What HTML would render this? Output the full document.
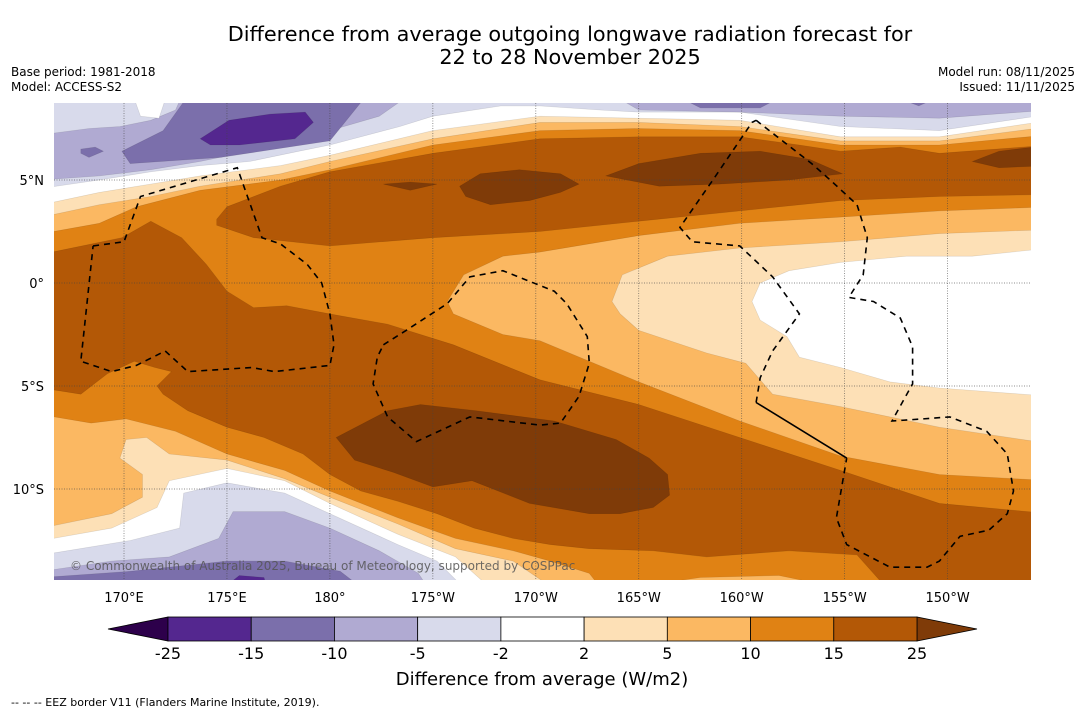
<!DOCTYPE html>
<html><head><meta charset="utf-8">
<style>
html,body{margin:0;padding:0;background:#fff;}
body{width:1085px;height:713px;overflow:hidden;font-family:"Liberation Sans","DejaVu Sans",sans-serif;}
svg text{font-family:"DejaVu Sans","Liberation Sans",sans-serif;}
</style></head>
<body>
<svg id="chart" width="1085" height="713" viewBox="0 0 1085 713" xmlns="http://www.w3.org/2000/svg">
  <rect x="0" y="0" width="1085" height="713" fill="#fff"/>
  <text x="570" y="41" text-anchor="middle" font-size="20.8" fill="#000">Difference from average outgoing longwave radiation forecast for</text>
  <text x="570" y="64" text-anchor="middle" font-size="20.8" fill="#000">22 to 28 November 2025</text>
  <text x="11" y="76" font-size="12" fill="#000">Base period: 1981-2018</text>
  <text x="11" y="91" font-size="12" fill="#000">Model: ACCESS-S2</text>
  <text x="1075" y="76" text-anchor="end" font-size="12" fill="#000">Model run: 08/11/2025</text>
  <text x="1075" y="91" text-anchor="end" font-size="12" fill="#000">Issued: 11/11/2025</text>
  <defs><clipPath id="mapclip"><rect x="54" y="103" width="977" height="477"/></clipPath></defs>
  <g id="map" clip-path="url(#mapclip)"></g>
  <g id="axes"></g>
  <g id="colorbar"></g>
  <text x="542" y="685" text-anchor="middle" font-size="18" fill="#000">Difference from average (W/m2)</text>
  <text x="11" y="706" font-size="11" fill="#000">--  --  -- EEZ border V11 (Flanders Marine Institute, 2019).</text>
</svg>
<script>
// ---- data ----
const lonExtent = [166.6, 214.05];
const latExtent = [8.74, -14.42];
const lonTicks = [170,175,180,185,190,195,200,205,210];
const lonTickLabels = ["170°E","175°E","180°","175°W","170°W","165°W","160°W","155°W","150°W"];
const latTicks = [5,0,-5,-10];
const latTickLabels = ["5°N","0°","5°S","10°S"];
const cbLevels = [-25,-15,-10,-5,-2,2,5,10,15,25];
const cbColors = ["#54278f","#7b6fab","#b0aad2","#d8daeb","#ffffff","#fde0b6","#fbb862","#e08214","#b35806"];
const cbUnderColor = "#2d004b";
const cbOverColor = "#7f3b08";

const darkTopBand = [[174.5,3.1],[175,3.7],[177.6,4.7],[180,5.4],[185,6.3],[190.2,7],[195,7.1],[199.9,7.1],[202.8,6.7],[204.8,6.4],[207.7,6.6],[209.6,6.3],[215,6.7],[215,4.3],[209.6,4.2],[204.8,4],[199.9,3.5],[195,3],[190.2,2.5],[185,2.2],[180,1.8],[176.3,2.2],[174.5,2.8]];
const top510 = [[166,2.4],[168.8,2.9],[170.6,3.7],[173.7,4.5],[177.6,5],[180,5.5],[185,6.7],[190.2,7.4],[195,7.5],[199.9,7.4],[204.8,6.7],[209.6,6.7],[215,7.2],[215,9.5],[166,9.5]];
const top25 = [[166,3.2],[168.8,3.8],[171.3,4.2],[173.7,4.7],[177.6,5.3],[180,5.9],[185,7],[190.2,7.8],[195,7.8],[199.9,7.6],[204.8,6.9],[209.6,6.9],[215,7.6],[215,9.5],[166,9.5]];
const topWhite = [[166,3.8],[168.8,4.4],[171.3,4.8],[173.7,5.2],[177.6,5.7],[180,6.2],[185,7.4],[190.2,8.1],[195,8],[199.9,7.9],[204.8,7.1],[209.6,7.1],[215,7.9],[215,9.5],[166,9.5]];
const topLav = [[166,4.6],[168.8,5],[171.3,5.4],[173.7,5.7],[176.1,5.9],[178.5,6.4],[180,6.7],[183.4,7.6],[185,8.1],[188.3,8.6],[190.2,8.6],[193.1,8.4],[195,8.3],[199.9,8.3],[204.8,7.6],[209.6,7.4],[215,8.2],[215,9.5],[166,9.5]];
const topM10Left = [[166,7.2],[168.3,7.5],[169.8,7.6],[171.3,7.9],[172.5,8.4],[173,9.5],[184.4,9.5],[182.4,8.1],[180,7.4],[178.5,7],[176.1,6.4],[173.7,5.9],[171.3,5.5],[168.8,5.2],[166,5]];
const topWhiteSpot = [[170.3,9.5],[170.8,8.1],[171.7,8],[172.2,9.5]];
const topM10Right = [[193.1,9.5],[195,8.4],[199.9,8.3],[204.8,8.1],[209.6,8],[215,8.4],[215,9.5]];
const topM15Left = [[169.9,6.4],[170.3,5.8],[174.7,6.1],[180,6.9],[182.1,9.5],[173.4,9.5],[171.9,7.4]];
const topM15Small = [[167.9,6.5],[168.6,6.6],[169,6.4],[168.3,6.1],[167.9,6.3]];
const topM15RightA = [[196,9.5],[198,8.5],[200.9,8.5],[202.8,9.5]];
const topM15RightB = [[206.2,9.5],[208.6,8.6],[210.6,9.5]];
const topM25 = [[173.7,7],[175.1,7.9],[177.1,8.2],[178.8,8.3],[179.2,7.8],[178.3,7],[175.6,6.7],[174.2,6.7]];
const topP25a = [[182.6,4.8],[183.9,4.9],[185.2,4.8],[183.9,4.5]];
const topP25b = [[186.3,4.7],[187.3,5.3],[189.2,5.5],[191.2,5.3],[192.1,4.8],[191.2,4.4],[189.7,4],[187.8,3.8],[186.6,4.2]];
const topP25c = [[193.4,5.2],[195,5.8],[198,6.3],[200.9,6.4],[203.3,6],[204.9,5.3],[202.3,5],[198.9,4.8],[196,4.7]];
const topP25d = [[211.2,5.9],[212.5,6.4],[215,6.7],[215,5.7],[212.5,5.6]];
const midDark = [[166,1.4],[169.9,2.2],[171.3,3],[172.8,2.2],[174,0.9],[175,-0.4],[176.3,-1.2],[177.9,-1.1],[180,-1.5],[182.8,-2],[186,-3],[190.2,-4.7],[195,-5.9],[199.9,-7.5],[204.8,-9.1],[209.6,-10.7],[215,-11.2],[215,-15],[207.2,-15],[205.6,-13.2],[202.3,-13],[198.3,-13.3],[195.7,-13],[192.6,-12.9],[190.7,-12.7],[188.9,-12.4],[187,-11.9],[185.2,-11.2],[183.3,-10.6],[181.5,-10.1],[180,-9.3],[178.7,-8.3],[176.8,-7.5],[175,-7],[173.1,-6.2],[171.9,-5.4],[171.6,-5],[172.3,-4.3],[171.5,-4.1],[170.5,-3.8],[169.2,-4.4],[167.9,-5.4],[166,-5.1]];
const mid510 = [[185.7,-0.9],[186.5,0.4],[188.4,1.3],[190.2,1.5],[195,2.3],[199.9,2.9],[204.8,3.2],[209.6,3.5],[215,3.7],[215,-9.6],[209.6,-9.3],[204.8,-8.4],[199.9,-6.7],[195,-4.8],[190.2,-2.8],[188.4,-2.5],[186,-1.5]];
const mid25 = [[194.1,-1.5],[193.7,-0.9],[194.2,0.4],[196.4,1.3],[199.9,1.7],[204.8,2],[209.6,2.4],[215,2.6],[215,-7.8],[209.6,-7],[204.8,-6],[201.5,-5.4],[200.2,-3.9],[198.3,-3.4],[195,-2.3]];
const midWhite = [[200.9,-1.8],[200.5,-0.9],[200.9,0],[202.3,0.6],[204.8,1],[208,1.3],[211.2,1.3],[215,1.7],[215,-5.5],[209.6,-5.1],[207.2,-4.8],[204.8,-4.1],[202.8,-3.6],[202.2,-2.6]];
const midP25 = [[180.3,-7.5],[182.8,-6.2],[184.4,-5.9],[187.1,-6.2],[190.9,-6.7],[193.9,-7.6],[195.5,-8.5],[196.4,-9.3],[196.5,-10.3],[195.7,-10.9],[194.1,-11.2],[192.6,-11.2],[189.7,-10.7],[186.9,-9.6],[185,-9.9],[183.1,-9.2],[181.2,-8.6]];
const bot510 = [[166,-6.4],[168.4,-6.8],[170.1,-6.6],[172.5,-7.2],[175,-8.3],[177.8,-9.1],[180,-10.1],[183.3,-11.4],[186.1,-12.4],[188.9,-13],[190.7,-13.5],[192.6,-14.1],[193.3,-15],[166,-15]];
const bot25 = [[166,-11.9],[169.4,-11.2],[170.9,-10.4],[170.9,-9.3],[169.8,-8.5],[170.1,-7.6],[171.1,-7.5],[172.2,-8.3],[175,-8.6],[177.8,-9.5],[180,-10.4],[183.3,-11.7],[186.1,-12.9],[188.9,-13.5],[191.1,-15],[166,-15]];
const botWhite = [[166,-12.5],[169.4,-11.9],[171.6,-10.9],[172.2,-9.6],[175,-9],[177.8,-9.6],[180,-10.7],[183.3,-12.2],[186.1,-13.3],[188,-15],[166,-15]];
const botLav = [[166,-13.2],[170.3,-12.5],[172.7,-11.9],[172.9,-10.2],[175,-9.7],[177.8,-10.2],[180,-11.2],[183.3,-12.7],[185.2,-13.5],[186.7,-15],[166,-15]];
const botM10 = [[166,-14],[169.4,-13.5],[172.2,-13.3],[174.6,-12.4],[175.3,-11.1],[177.8,-11.1],[180,-11.9],[182.4,-13],[184.3,-14.1],[184.9,-15],[166,-15]];
const botM15 = [[166,-14.3],[170.3,-14],[175,-13.5],[177.8,-13.5],[180.5,-14],[181.8,-15],[166,-15]];
const botM25 = [[174.6,-15],[175.6,-14.2],[176.8,-14.3],[177,-15]];
const botRight510 = [[193.1,-15],[198,-14.3],[201.8,-14.2],[205.7,-15]];

const eezTuvalu = [[168.5,1.8],[170,2],[170.8,4.2],[175.5,5.6],[176.7,2.2],[177.6,1.9],[178.9,0.9],[179.6,0],[180,-1.5],[180.2,-3],[180,-4],[177.3,-4.3],[176.2,-4.1],[173.1,-4.3],[172,-3.3],[170.6,-4],[169.4,-4.3],[167.9,-3.8],[168.5,1.8]];
const eezTokelau = [[182.6,-3],[183.7,-2.3],[185.7,-1],[186.8,0.3],[188.4,0.6],[190.9,-0.4],[191.5,-1],[192.5,-2.6],[192.6,-3.9],[192.1,-5.5],[191.2,-6.8],[190.2,-6.9],[186.8,-6.5],[184.2,-7.7],[182.8,-6.5],[182.1,-4.9],[182.3,-3.6],[182.6,-3]];
const eezEastA = [[200.7,7.9],[203.4,5.8],[204.3,5],[205.6,3.8],[206.1,2.2],[205.9,0.4],[205.2,-0.7],[206.4,-0.9],[207.7,-1.7],[208.3,-3.1],[208.3,-4.9],[207.3,-6.7],[208.8,-6.6],[210.1,-6.5],[211.9,-7.2],[212.9,-8.3],[213.2,-10.1],[212.9,-11.2],[212,-12],[210.6,-12.3],[209.6,-13.5],[209,-13.8],[207.2,-13.8],[205.1,-12.7],[204.6,-11.4],[205.1,-8.5]];
const eezEastSolid = [[205.1,-8.5],[200.7,-5.8]];
const eezEastB = [[200.7,-5.8],[200.9,-4.6],[201.5,-3.3],[202.8,-1.5],[201.5,0.3],[199.9,1.8],[197.6,2],[197,2.7],[198.6,5],[200.5,7.8],[200.7,7.9]];

const X0=54, X1=1031, Y0=103, Y1=580;
function xs(lon){ return X0 + (lon-lonExtent[0])/(lonExtent[1]-lonExtent[0])*(X1-X0); }
function ys(lat){ return Y0 + (latExtent[0]-lat)/(latExtent[0]-latExtent[1])*(Y1-Y0); }
function pathOf(pts, close){
  let d = pts.map((p,i)=>(i?'L':'M')+xs(p[0]).toFixed(1)+','+ys(p[1]).toFixed(1)).join('');
  return close ? d+'Z' : d;
}
const NS='http://www.w3.org/2000/svg';
function mk(tag, attrs, parent){
  const el=document.createElementNS(NS,tag);
  for(const k in attrs) el.setAttribute(k,attrs[k]);
  parent.appendChild(el); return el;
}
const map=document.getElementById('map');
const bg=mk('rect',{x:X0,y:Y0,width:X1-X0,height:Y1-Y0,fill:cbColors[7]},map);



const layers = [
  [darkTopBand,8,'contour-15-25-north'],
  [top510,6,'contour-5-10-north'],
  [top25,5,'contour-2-5-north'],
  [topWhite,4,'contour-neutral-north'],
  [topLav,3,'contour-minus5-north'],
  [topM10Left,2,'contour-minus10-northwest'],
  [topWhiteSpot,4,'contour-neutral-spot'],
  [topM10Right,2,'contour-minus10-northeast'],
  [topM15Left,1,'contour-minus15-northwest'],
  [topM15Small,1,'contour-minus15-small'],
  [topM15RightA,1,'contour-minus15-northeast-a'],
  [topM15RightB,1,'contour-minus15-northeast-b'],
  [topM25,0,'contour-minus25-north'],
  [topP25a,9,'contour-over25-a'],
  [topP25b,9,'contour-over25-b'],
  [topP25c,9,'contour-over25-c'],
  [topP25d,9,'contour-over25-d'],
  [midDark,8,'contour-15-25-central'],
  [mid510,6,'contour-5-10-east'],
  [mid25,5,'contour-2-5-east'],
  [midWhite,4,'contour-neutral-east'],
  [midP25,9,'contour-over25-central'],
  [bot510,6,'contour-5-10-south'],
  [bot25,5,'contour-2-5-south'],
  [botWhite,4,'contour-neutral-south'],
  [botLav,3,'contour-minus5-south'],
  [botM10,2,'contour-minus10-south'],
  [botM15,1,'contour-minus15-south'],
  [botM25,0,'contour-minus25-south'],
  [botRight510,6,'contour-5-10-southeast']
];
for(const L of layers){
  const col = L[1]===9 ? cbOverColor : cbColors[L[1]];
  const p=mk('path',{d:pathOf(L[0],true),fill:col,stroke:'rgba(0,0,0,0.12)','stroke-width':0.6},map);
  
  
}
for(const t of lonTicks){
  const g=mk('line',{x1:xs(t),x2:xs(t),y1:Y0,y2:Y1,stroke:'#444','stroke-width':0.7,'stroke-dasharray':'1,1.5','stroke-opacity':0.8},map);
  
  
}
for(const t of latTicks){
  const g=mk('line',{x1:X0,x2:X1,y1:ys(t),y2:ys(t),stroke:'#444','stroke-width':0.7,'stroke-dasharray':'1,1.5','stroke-opacity':0.8},map);
  
  
}
const borders=[[eezTuvalu,true,'eez-border-west'],[eezTokelau,true,'eez-border-central'],[eezEastA,true,'eez-border-east-a'],[eezEastSolid,false,'eez-border-east-solid'],[eezEastB,true,'eez-border-east-b']];
for(const B of borders){
  const attrs={d:pathOf(B[0],false),fill:'none',stroke:'#000','stroke-width':1.6};
  if(B[1]) attrs['stroke-dasharray']='6,5';
  const p=mk('path',attrs,map);
  
  
}
const cp=mk('text',{x:70,y:570,'font-size':12,fill:'#555','fill-opacity':0.85},map);
cp.textContent='© Commonwealth of Australia 2025, Bureau of Meteorology, supported by COSPPac';



const axes=document.getElementById('axes');
lonTicks.forEach((t,i)=>{
  const tx=mk('text',{x:xs(t),y:602,'text-anchor':'middle','font-size':13,fill:'#000'},axes);
  tx.textContent=lonTickLabels[i];
  
  
});
latTicks.forEach((t,i)=>{
  const tx=mk('text',{x:44,y:ys(t)+5,'text-anchor':'end','font-size':13,fill:'#000'},axes);
  tx.textContent=latTickLabels[i];
  
  
});

const cb=document.getElementById('colorbar');
const CB0=168, CB1=917, CBY=617, CBH=24;
const nb=cbColors.length;
function cbx(i){ return CB0 + i*(CB1-CB0)/nb; }
const tl=mk('polygon',{points:`108,${CBY+CBH/2} ${CB0},${CBY} ${CB0},${CBY+CBH}`,fill:cbUnderColor,stroke:'#000','stroke-width':0.8},cb);


const tr=mk('polygon',{points:`977,${CBY+CBH/2} ${CB1},${CBY} ${CB1},${CBY+CBH}`,fill:cbOverColor,stroke:'#000','stroke-width':0.8},cb);


cbColors.forEach((c,i)=>{
  const r=mk('rect',{x:cbx(i),y:CBY,width:(CB1-CB0)/nb,height:CBH,fill:c,stroke:'#000','stroke-width':0.8},cb);
  
  
});
cbLevels.forEach((v,i)=>{
  const tx=mk('text',{x:cbx(i),y:659,'text-anchor':'middle','font-size':16,fill:'#000'},cb);
  tx.textContent=String(v);
  
  
});
</script>
</body></html>
